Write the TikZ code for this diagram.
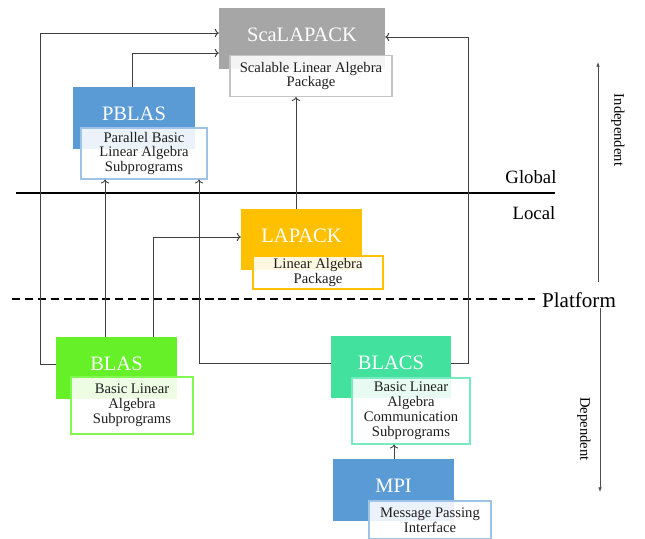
\documentclass[tikz,border=0pt]{standalone}
\usepackage{fontspec}
\setmainfont{Liberation Serif}
\usetikzlibrary{arrows.meta}
\definecolor{scagray}{HTML}{A6A6A6}
\definecolor{pblasblue}{HTML}{5B9BD5}
\definecolor{lapackgold}{HTML}{FFC000}
\definecolor{blasgreen}{HTML}{66F028}
\definecolor{blacsteal}{HTML}{42E29E}
\definecolor{linkgray}{HTML}{404040}
\definecolor{lightblue}{HTML}{9DC3E6}
\definecolor{lightgreen}{HTML}{80F850}
\definecolor{lightteal}{HTML}{78EAC0}
\definecolor{lightgray}{HTML}{C4C4C4}

\begin{document}
\begin{tikzpicture}[x=0.03cm,y=-0.03cm,
	head/.style={rectangle, inner sep=0pt, text=white, font=\fontsize{17.5}{20}\selectfont, text height=12pt, text depth=7pt},
	sub/.style={rectangle, inner sep=0pt, draw=#1, line width=0.9pt, fill=white, fill opacity=0.88, text opacity=1, text=black!88, align=center, font=\fontsize{12.5}{12.8}\selectfont},
	link/.style={draw=linkgray, line width=0.8pt, ->}]
	
	\useasboundingbox (0,0) rectangle (645,539);
	
     \coordinate (tl) at (40,33);
      \coordinate (pt) at (132,53);
       \coordinate (tr) at (468,37);
        \coordinate (lp) at (296,0);
         \coordinate (bp) at (105,0);
          \coordinate (bl) at (153,237);
           \coordinate (cp) at (199,0);
            \coordinate (mp) at (394,0);
   
   % boxes
   \node[head, fill=scagray, minimum width=4.98cm, minimum height=1.83cm] (scalapack) at (302,38.5) {ScaLAPACK};
   \node[sub=lightgray, minimum width=4.86cm, minimum height=1.23cm] (scasub) at (311,76) {Scalable Linear Algebra\\Package};
   
   \node[head, fill=pblasblue, minimum width=3.66cm, minimum height=1.86cm] (pblas) at (134,118) {PBLAS};
   \node[sub=lightblue, minimum width=3.78cm, minimum height=1.53cm] (pbsub) at (144,153.5) {Parallel Basic\\Linear Algebra\\Subprograms};
   
   \node[head, fill=lapackgold, minimum width=3.63cm, minimum height=1.83cm] (lapack) at (301.5,239.5) {LAPACK};
   \node[sub=lapackgold, minimum width=3.9cm, minimum height=0.99cm] (lasub) at (318,272.5) {Linear Algebra\\Package};
   
   \node[head, fill=blasgreen, minimum width=3.63cm, minimum height=1.86cm] (blas) at (116.5,368) {BLAS};
   \node[sub=lightgreen, minimum width=3.66cm, minimum height=1.71cm] (bsub) at (132,405.5) {Basic Linear\\Algebra\\Subprograms};
   
   \node[head, fill=blacsteal, minimum width=3.6cm, minimum height=1.86cm] (blacs) at (391,367) {BLACS};
   \node[sub=lightteal, minimum width=3.54cm, minimum height=1.98cm] (blsub) at (411,411) {Basic Linear\\Algebra\\Communication\\Subprograms};
   
   \node[head, fill=pblasblue, minimum width=3.63cm, minimum height=1.86cm] (mpi) at (393.5,490) {MPI};
   \node[sub=lightblue, minimum width=3.66cm, minimum height=1.14cm] (mpisub) at (430,520) {Message Passing\\Interface};
   
   % levels
   \draw[line width=2.4pt] (16,193) -- (555,193);
   \draw[dash pattern=on 7pt off 4pt, line width=1.1pt] (12,299) -- (535,299);
   \node[font=\fontsize{16}{18}\selectfont] (global) at (531,177) {Global};
   \node[font=\fontsize{16}{18}\selectfont] (local) at (534,213) {Local};
   \node[font=\fontsize{18}{20}\selectfont] (platform) at (579,300) {Platform};
   
   \coordinate (iu) at (598,62);
   \coordinate (id) at (598,282);
   \coordinate (du) at (600,308);
   \coordinate (dd) at (600,492);
   \draw[-{Latex[length=4pt,width=3pt]}, line width=0.6pt, black!70] (id) -- (iu);
   \draw[-{Latex[length=4pt,width=3pt]}, line width=0.6pt, black!70] (du) -- (dd);
   \node[rotate=-90, font=\fontsize{12.5}{14}\selectfont] (indep) at (618,130) {Independent};
   \node[rotate=-90, font=\fontsize{12.5}{14}\selectfont] (dep) at (584,429) {Dependent};
   
   % connectors
    \draw[link] ([yshift=3pt]blas.west) -| (tl) -- (scalapack.west |- tl);
    \draw[link] (pblas.north -| pt) |- (scalapack.west |- pt);
    \draw[link] ([yshift=3pt]blacs.east) -| (tr) -- (scalapack.east |- tr);
    \draw[link] (lapack.north -| lp) -- (scasub.south -| lp);
    \draw[link] (blas.north -| bp) -- (pbsub.south -| bp);
    \draw[link] (blas.north -| bl) |- (lapack.west |- bl);
    \draw[link] ([yshift=3pt]blacs.west) -| (pbsub.south -| cp);
    \draw[link] (mpi.north -| mp) -- (blsub.south -| mp);
    
\end{tikzpicture}
\end{document}
